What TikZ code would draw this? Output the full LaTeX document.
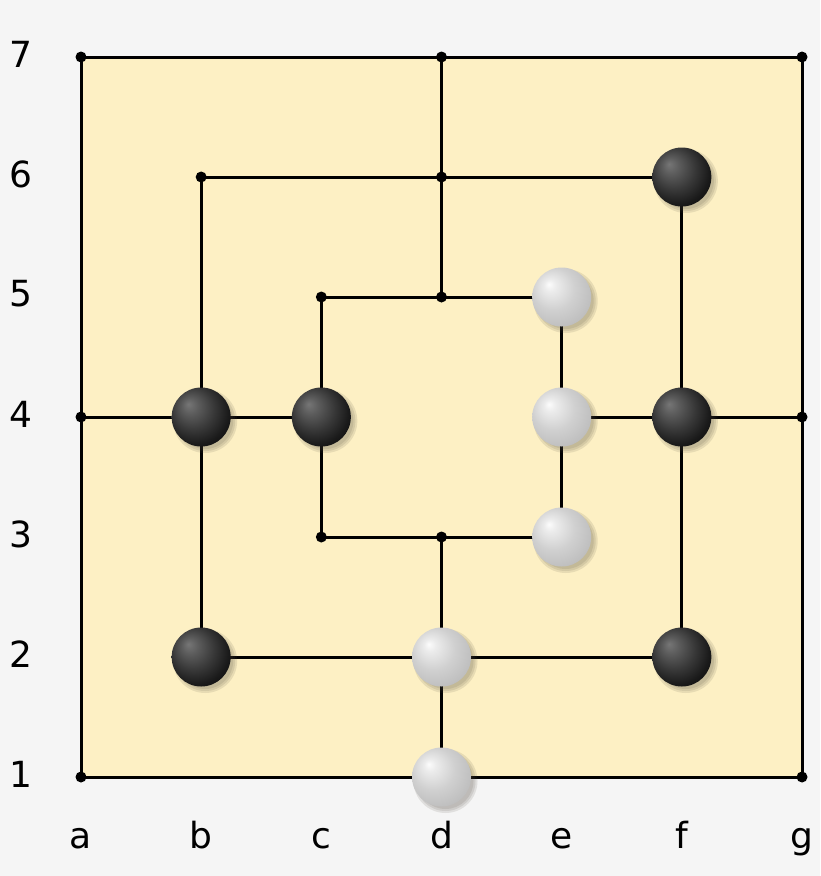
\documentclass[tikz,border=0pt]{standalone}
\usepackage{fontspec}
\usetikzlibrary{calc}
\setmainfont{DejaVu Sans}
\definecolor{bgc}{RGB}{245,245,245}
\definecolor{boardc}{RGB}{253,240,196}
\pgfdeclareradialshading{bstone}{\pgfpoint{-11bp}{11bp}}{%
  color(0bp)=(rgb,255:red,118;green,118;blue,118);
  color(7bp)=(rgb,255:red,92;green,92;blue,92);
  color(18bp)=(rgb,255:red,56;green,56;blue,56);
  color(28bp)=(rgb,255:red,26;green,26;blue,26);
  color(38bp)=(rgb,255:red,6;green,6;blue,6);
  color(50bp)=(rgb,255:red,0;green,0;blue,0)}
\pgfdeclareradialshading{wstone}{\pgfpoint{-11bp}{11bp}}{%
  color(0bp)=(rgb,255:red,252;green,252;blue,252);
  color(5bp)=(rgb,255:red,236;green,236;blue,236);
  color(18bp)=(rgb,255:red,208;green,208;blue,208);
  color(32bp)=(rgb,255:red,188;green,188;blue,188);
  color(42bp)=(rgb,255:red,170;green,170;blue,170);
  color(50bp)=(rgb,255:red,158;green,158;blue,158)}
\tikzset{
  gridline/.style={line width=3pt, line cap=round},
  dot/.style={circle, fill=black, inner sep=0pt, minimum size=11pt},
  stoneshadow/.style={circle, fill=black!70!boardc, opacity=0.12, inner sep=0pt, minimum size=#1},
  blackstone/.style={circle, shading=bstone, inner sep=0pt, minimum size=59pt},
  whitestone/.style={circle, shading=wstone, inner sep=0pt, minimum size=59pt},
  lbl/.style={font=\fontsize{36}{42}\selectfont, inner sep=0pt}
}
\begin{document}
\begin{tikzpicture}[x=1pt,y=-1pt]
\useasboundingbox (0,0) rectangle (820,876);
\fill[bgc] (0,0) rectangle (820,876);
% coordinates
\foreach \c [count=\i from 0] in {a,b,c,d,e,f,g}{
  \foreach \r in {1,...,7}{
    \coordinate (\c\r) at ({81+\i*120.17},{57+(7-\r)*120});
  }
}
\fill[boardc] (a1) rectangle (g7);
% squares
\draw[gridline] (a1) -- (g1) -- (g7) -- (a7) -- cycle;
\draw[gridline] (b2) -- (f2) -- (f6) -- (b6) -- cycle;
\draw[gridline] (c3) -- (e3) -- (e5) -- (c5) -- cycle;
\draw[gridline] (d7) -- (d5);
\draw[gridline] (d3) -- (d1);
\draw[gridline] (a4) -- (c4);
\draw[gridline] (e4) -- (g4);
% dots
\foreach \p in {a7,d7,g7,b6,d6,c5,d5,a4,g4,c3,d3,a1,g1}{
  \node[dot] (dot\p) at (\p) {};
}
% shadows (soft, offset to lower right)
\foreach \p in {f6,b4,c4,f4,b2,f2,e5,e4,e3,d2,d1}{
  \node[stoneshadow=64pt] (sha\p) at ($(\p)+(4,4)$) {};
  \node[stoneshadow=60pt] (shb\p) at ($(\p)+(4,4)$) {};
  \node[stoneshadow=56pt] (shc\p) at ($(\p)+(4,4)$) {};
}
% stones
\foreach \p in {f6,b4,c4,f4,b2,f2}{
  \node[blackstone] (st\p) at (\p) {};
}
\foreach \p in {e5,e4,e3,d2,d1}{
  \node[whitestone] (st\p) at (\p) {};
}
% labels
\foreach \r in {1,...,7}{
  \node[lbl] (row\r) at (21,{54+(7-\r)*120}) {\r};
}
\foreach \c [count=\i from 0] in {a,b,c,d,e,f,g}{
  \node[lbl, anchor=base] (col\c) at ({81+\i*120.17},848) {\c};
}
\end{tikzpicture}
\end{document}
